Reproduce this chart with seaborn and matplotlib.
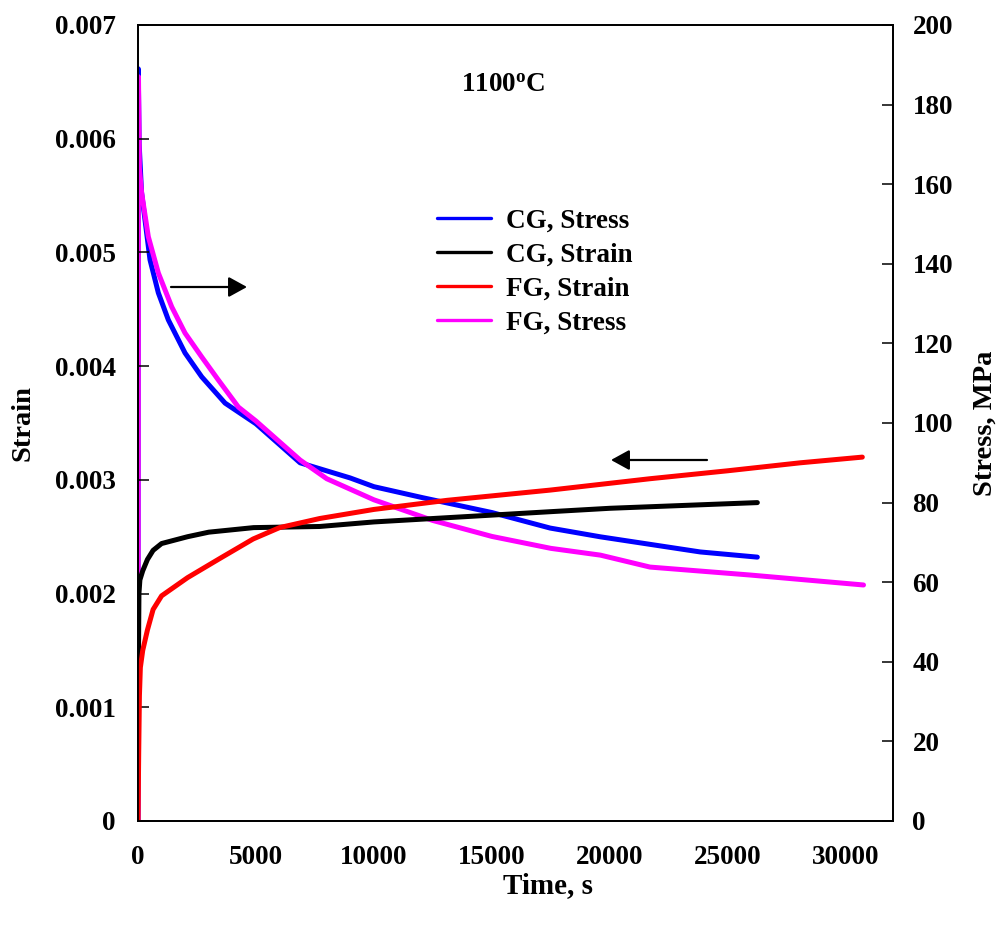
import matplotlib
matplotlib.use("Agg")
import matplotlib.pyplot as plt
import seaborn as sns
import pandas as pd
from matplotlib.lines import Line2D

# ---------------- data ----------------
cg_strain_time = [20, 40, 80, 200, 400, 640, 1000, 2100, 3000, 4900, 7700, 10000, 15000, 17470, 20000, 26250]
cg_strain = [0.00144, 0.00200, 0.00212, 0.00220, 0.00230, 0.00238, 0.00244, 0.00250, 0.00254, 0.00258,
             0.00259, 0.00263, 0.00269, 0.00272, 0.00275, 0.00280]

fg_strain_time = [0, 30, 60, 100, 200, 400, 640, 1000, 2100, 3480, 4880, 6000, 7700, 10000, 13100, 17470,
                  21700, 25000, 28070, 30700]
fg_strain = [0.0, 0.0006, 0.0011, 0.00135, 0.0015, 0.00168, 0.00186, 0.00198, 0.00214, 0.00231, 0.00248,
             0.00258, 0.00266, 0.00274, 0.00282, 0.00291, 0.00301, 0.00308, 0.00315, 0.00320]

cg_stress_time = [0, 10, 50, 150, 297, 509, 862, 1286, 1993, 2700, 3690, 5000, 6870, 8990, 10000, 12090,
                  15000, 17470, 19600, 23830, 26250]
cg_stress = [0, 189, 170, 158, 151, 141, 132.7, 125.9, 117.6, 111.6, 105, 99.8, 90, 86.2, 84, 81.2,
             77.5, 73.6, 71.4, 67.6, 66.3]

fg_stress_time = [0, 20, 60, 155, 438, 862, 1428, 1993, 2700, 3406, 4255, 5000, 6870, 8000, 10000, 12500,
                  15000, 17500, 19600, 21700, 25950, 30750]
fg_stress = [0, 187, 164, 157.8, 146.8, 137.7, 129.2, 122.6, 116.6, 110.8, 104, 100.5, 90.7, 86, 80.7, 75.5,
             71.5, 68.5, 66.8, 63.8, 61.8, 59.3]

x_ticks = [0, 5000, 10000, 15000, 20000, 25000, 30000]
strain_ticks = [0, 0.001, 0.002, 0.003, 0.004, 0.005, 0.006, 0.007]
strain_tick_labels = ["0", "0.001", "0.002", "0.003", "0.004", "0.005", "0.006", "0.007"]
stress_ticks = [0, 20, 40, 60, 80, 100, 120, 140, 160, 180, 200]

# ---------------- style ----------------
sns.set_style("white")
plt.rcParams["font.family"] = ["Liberation Serif", "DejaVu Serif"]
plt.rcParams["font.weight"] = "bold"
plt.rcParams["text.color"] = "black"
plt.rcParams["axes.labelcolor"] = "black"
plt.rcParams["xtick.color"] = "black"
plt.rcParams["ytick.color"] = "black"
plt.rcParams["mathtext.fontset"] = "custom"
plt.rcParams["mathtext.rm"] = "Liberation Serif:bold"
plt.rcParams["mathtext.bf"] = "Liberation Serif:bold"
plt.rcParams["mathtext.it"] = "Liberation Serif:bold:italic"

FS = 19.5
fig = plt.figure(figsize=(10.01, 9.31), dpi=100)
W, H = 1001, 931
ax1 = fig.add_axes([138 / W, (H - 821) / H, (893 - 138) / W, (821 - 25) / H])
ax2 = ax1.twinx()
# strain curves are drawn above the stress curves
ax1.set_zorder(ax2.get_zorder() + 1)
ax1.patch.set_visible(False)

df_cgs = pd.DataFrame({"t": cg_strain_time, "v": cg_strain})
df_fgs = pd.DataFrame({"t": fg_strain_time, "v": fg_strain})
df_cgS = pd.DataFrame({"t": cg_stress_time, "v": cg_stress})
df_fgS = pd.DataFrame({"t": fg_stress_time, "v": fg_stress})

sns.lineplot(data=df_cgs, x="t", y="v", ax=ax1, color="black", lw=3.6, estimator=None, sort=False,
             label="CG, Strain", legend=False)
sns.lineplot(data=df_fgs, x="t", y="v", ax=ax1, color="#FF0000", lw=3.6, estimator=None, sort=False,
             label="FG, Strain", legend=False)
sns.lineplot(data=df_cgS, x="t", y="v", ax=ax2, color="#0000FF", lw=3.6, estimator=None, sort=False,
             label="CG, Stress", legend=False)
sns.lineplot(data=df_fgS, x="t", y="v", ax=ax2, color="#FF00FF", lw=3.6, estimator=None, sort=False,
             label="FG, Stress", legend=False)

ax1.set_xlim(0, 32000)
ax1.set_ylim(0, 0.007)
ax2.set_ylim(0, 200)
ax1.set_xticks(x_ticks)
ax1.set_xticklabels([str(v) for v in x_ticks])
ax1.set_yticks(strain_ticks)
ax1.set_yticklabels(strain_tick_labels)
ax2.set_yticks(stress_ticks)
ax2.set_yticklabels([str(v) for v in stress_ticks])

for a in (ax1, ax2):
    for s in a.spines.values():
        s.set_visible(True)
        s.set_color("black")
        s.set_linewidth(1.3)

ax1.tick_params(axis="x", direction="in", length=8, width=1.1, labelsize=FS, pad=17, color="black",
                labelcolor="black")
ax1.tick_params(axis="y", direction="in", length=8, width=1.1, labelsize=FS, pad=16, color="black",
                labelcolor="black")
ax2.tick_params(axis="y", direction="in", length=8, width=1.1, labelsize=FS, pad=14, color="black",
                labelcolor="black")

ax1.set_xlabel("Time, s", fontsize=FS + 1.5, fontweight="bold", color="black")
ax1.set_ylabel("Strain", fontsize=FS + 1, fontweight="bold", color="black")
ax2.set_ylabel("Stress, MPa", fontsize=FS + 1, fontweight="bold", rotation=90, color="black")
ax1.xaxis.set_label_coords((548 - 138) / 755, -(886 - 821) / 796)
ax1.xaxis.label.set_va("center")
ax1.yaxis.set_label_coords((23 - 138) / 755, 0.5)
ax1.yaxis.label.set_va("center")
ax2.yaxis.set_label_coords((985 - 138) / 755, 0.5)
ax2.yaxis.label.set_va("center")

# annotation text
ax1.text((503 - 138) / 755, (821 - 85) / 796, r"1100$^{\mathrm{o}}$C", transform=ax1.transAxes,
         ha="center", va="center", fontsize=FS, fontweight="bold", color="black")

# arrows
arrow_kw = dict(arrowstyle="-|>,head_length=0.4,head_width=0.22", color="black", lw=1.6,
                mutation_scale=28, shrinkA=0, shrinkB=0)
ax1.annotate("", xy=((247 - 138) / 755, (821 - 287) / 796), xytext=((171 - 138) / 755, (821 - 287) / 796),
             xycoords="axes fraction", textcoords="axes fraction", arrowprops=arrow_kw)
ax1.annotate("", xy=((611 - 138) / 755, (821 - 460) / 796), xytext=((707 - 138) / 755, (821 - 460) / 796),
             xycoords="axes fraction", textcoords="axes fraction", arrowprops=arrow_kw)

# legend combining both axes
h1, l1 = ax1.get_legend_handles_labels()
h2, l2 = ax2.get_legend_handles_labels()
hd = dict(zip(l1 + l2, h1 + h2))
order = ["CG, Stress", "CG, Strain", "FG, Strain", "FG, Stress"]
handles = [Line2D([], [], color=hd[k].get_color(), lw=2.4) for k in order]
leg = ax1.legend(handles, order, loc="center left", bbox_to_anchor=(437 / W, 1 - 272 / H),
                 bbox_transform=fig.transFigure, frameon=False, fontsize=FS, handlelength=2.0,
                 handletextpad=0.55, labelspacing=0.33, borderpad=0, borderaxespad=0)
for t in leg.get_texts():
    t.set_fontweight("bold")
    t.set_color("black")

fig.savefig("out.png", dpi=100)
